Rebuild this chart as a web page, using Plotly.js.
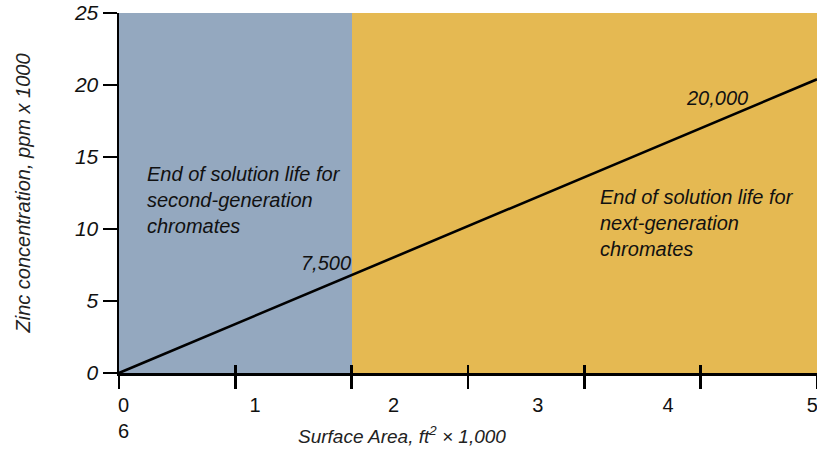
<!DOCTYPE html>
<html>
<head>
<meta charset="utf-8">
<script src="https://cdn.plot.ly/plotly-3.0.1.min.js"></script>
<style>html,body{margin:0;padding:0;background:#fff;}#chart{width:817px;height:449px;}</style>
</head>
<body>
<div id="chart"></div>
<script>
// ---- data ----
const regionStart = [0, 2];
const regionEnd = [2, 6];
const regionTop = [25, 25];
const regionColors = ['#94a8bf', '#e5b952'];

const lineX = [0, 6];
const lineY = [0, 20.4];

const xTickVals = [0, 1, 2, 3, 4, 5, 6];
const xLabelPos = [0.04, 1.17, 2.36, 3.6, 4.72, 5.96];
const xLabelText = ['0<br>6', '1', '2', '3', '4', '5'];
const yTickVals = [0, 5, 10, 15, 20, 25];
const yTickText = ['0', '5', '10', '15', '20', '25'];

const FONT = 'Liberation Sans, Arial, Helvetica, sans-serif';

const regionCenters = regionStart.map((s, i) => (s + regionEnd[i]) / 2);
const regionWidths = regionStart.map((s, i) => regionEnd[i] - s);

const traces = [
  {
    type: 'bar', x: regionCenters, y: regionTop, width: regionWidths,
    marker: {color: regionColors, line: {width: 0}},
    xaxis: 'x', yaxis: 'y', hoverinfo: 'skip', showlegend: false
  },
  {
    type: 'scatter', mode: 'lines', x: lineX, y: lineY,
    line: {color: '#000', width: 2.6},
    xaxis: 'x2', yaxis: 'y', hoverinfo: 'skip', showlegend: false
  },
  {
    type: 'scatter', mode: 'markers', x: [], y: [],
    xaxis: 'x3', yaxis: 'y', hoverinfo: 'skip', showlegend: false
  }
];

const textFont = {family: FONT, size: 20, color: '#111', style: 'italic'};

const layout = {
  width: 817, height: 449,
  margin: {l: 119, r: 0, t: 13, b: 76, pad: 0},
  paper_bgcolor: '#fff', plot_bgcolor: '#fff',
  showlegend: false,
  bargap: 0,
  xaxis: {
    range: [0, 6], tickvals: xTickVals, showticklabels: false,
    ticks: 'outside', ticklen: 13, tickwidth: 2.5, tickcolor: '#000',
    showline: true, linewidth: 2.5, linecolor: '#000',
    showgrid: false, zeroline: false, fixedrange: true
  },
  xaxis2: {
    overlaying: 'x', anchor: 'y', side: 'bottom',
    range: [0, 6], tickvals: xTickVals, showticklabels: false,
    ticks: 'inside', ticklen: 8, tickwidth: 2.5, tickcolor: '#000',
    showline: false, showgrid: false, zeroline: false
  },
  xaxis3: {
    overlaying: 'x', anchor: 'y', side: 'bottom',
    range: [0, 6], tickvals: xLabelPos, ticktext: xLabelText,
    ticks: '', ticklabelstandoff: 18, ticklabeloverflow: 'allow',
    tickfont: {family: FONT, size: 20, color: '#111'},
    showline: false, showgrid: false, zeroline: false
  },
  yaxis: {
    range: [0, 25], tickvals: yTickVals, ticktext: yTickText,
    ticks: 'outside', ticklen: 14, tickwidth: 2.5, tickcolor: '#000',
    tickfont: {family: FONT, size: 21, color: '#111', style: 'italic'},
    showline: true, linewidth: 2.5, linecolor: '#000',
    showgrid: false, zeroline: false,
    title: {text: 'Zinc concentration, ppm x 1000', standoff: 38,
            font: {family: FONT, size: 20, color: '#222', style: 'italic'}}
  },
  annotations: [
    {xref: 'paper', yref: 'paper', x: 0.406, y: -0.172, xanchor: 'center', yanchor: 'middle',
     text: 'Surface Area, ft<sup>2</sup> × 1,000', showarrow: false,
     font: {family: FONT, size: 19, color: '#222', style: 'italic'}},
    {xref: 'x', yref: 'y', x: 0.22, y: 12.0, xanchor: 'left', yanchor: 'middle', align: 'left',
     text: 'End of solution life for<br>second-generation<br>chromates', showarrow: false, font: textFont},
    {xref: 'x', yref: 'y', x: 4.12, y: 10.4, xanchor: 'left', yanchor: 'middle', align: 'left',
     text: 'End of solution life for<br>next-generation<br>chromates', showarrow: false, font: textFont},
    {xref: 'x', yref: 'y', x: 1.78, y: 7.64, xanchor: 'center', yanchor: 'middle',
     text: '7,500', showarrow: false, font: {family: FONT, size: 20, color: '#111', style: 'italic'}},
    {xref: 'x', yref: 'y', x: 5.14, y: 19.1, xanchor: 'center', yanchor: 'middle',
     text: '20,000', showarrow: false, font: {family: FONT, size: 20, color: '#111', style: 'italic'}}
  ]
};

Plotly.newPlot('chart', traces, layout, {staticPlot: true, displayModeBar: false});
</script>
</body>
</html>
